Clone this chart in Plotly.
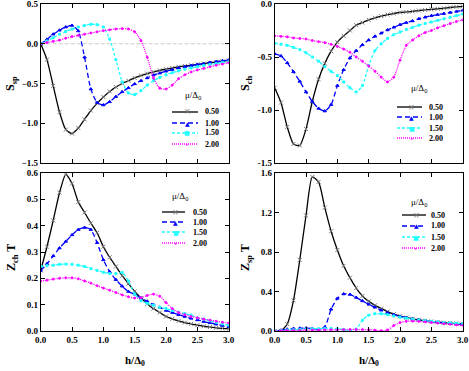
import plotly.graph_objects as go

# ---------------- data ----------------
H = [0.0, 0.1, 0.2, 0.3, 0.4, 0.5, 0.6, 0.7, 0.8, 0.9, 1.0,
     1.1, 1.2, 1.3, 1.4, 1.5, 1.6, 1.7, 1.8, 1.9, 2.0,
     2.1, 2.2, 2.3, 2.4, 2.5, 2.6, 2.7, 2.8, 2.9, 3.0]
MU_LABELS = ["0.50", "1.00", "1.50", "2.00"]
SCH_TICKS = [-1.5, -1.0, -0.5, 0.0]
SCH_TICKTEXT = ["-1.5", "-1.0", "-0.5", "0.0"]

SSP_050 = [0, -0.20, -0.53, -0.86, -1.08, -1.13, -1.06, -0.95, -0.84, -0.75, -0.67,
           -0.60, -0.545, -0.50, -0.465, -0.43, -0.40, -0.375, -0.355, -0.335, -0.32,
           -0.305, -0.29, -0.28, -0.27, -0.26, -0.25, -0.24, -0.23, -0.22, -0.21]
SSP_100 = [0, 0.055, 0.12, 0.17, 0.21, 0.23, 0.16, -0.17, -0.57, -0.74, -0.77,
           -0.73, -0.665, -0.605, -0.555, -0.505, -0.465, -0.43, -0.395, -0.37, -0.345,
           -0.325, -0.305, -0.29, -0.275, -0.26, -0.25, -0.235, -0.225, -0.215, -0.205]
SSP_150 = [0, 0.035, 0.075, 0.12, 0.155, 0.185, 0.21, 0.23, 0.245, 0.24, 0.21,
           0.06, -0.20, -0.48, -0.62, -0.64, -0.59, -0.52, -0.465, -0.425, -0.39,
           -0.365, -0.34, -0.32, -0.305, -0.29, -0.275, -0.26, -0.25, -0.235, -0.225]
SSP_200 = [0, 0.015, 0.03, 0.045, 0.07, 0.09, 0.105, 0.12, 0.135, 0.15, 0.165,
           0.175, 0.185, 0.19, 0.185, 0.15, 0.04, -0.17, -0.43, -0.56, -0.57,
           -0.52, -0.44, -0.39, -0.355, -0.33, -0.31, -0.29, -0.27, -0.255, -0.24]

SCH_050 = [-0.79, -0.93, -1.16, -1.32, -1.335, -1.18, -0.92, -0.71, -0.56, -0.445, -0.36,
           -0.30, -0.25, -0.20, -0.175, -0.15, -0.13, -0.115, -0.10, -0.09, -0.08,
           -0.075, -0.07, -0.062, -0.056, -0.05, -0.045, -0.04, -0.033, -0.027, -0.022]
SCH_100 = [-0.47, -0.49, -0.555, -0.64, -0.73, -0.83, -0.92, -0.985, -1.01, -0.95, -0.77,
           -0.62, -0.51, -0.44, -0.385, -0.34, -0.305, -0.275, -0.245, -0.22, -0.195,
           -0.175, -0.16, -0.14, -0.125, -0.11, -0.10, -0.09, -0.08, -0.07, -0.06]
SCH_150 = [-0.37, -0.38, -0.39, -0.41, -0.43, -0.46, -0.50, -0.54, -0.59, -0.635, -0.675,
           -0.735, -0.79, -0.83, -0.77, -0.58, -0.44, -0.375, -0.325, -0.29, -0.265,
           -0.24, -0.22, -0.20, -0.185, -0.17, -0.155, -0.14, -0.125, -0.11, -0.095]
SCH_200 = [-0.30, -0.305, -0.31, -0.32, -0.325, -0.33, -0.345, -0.355, -0.365, -0.38, -0.40,
           -0.425, -0.455, -0.50, -0.54, -0.585, -0.635, -0.69, -0.735, -0.69, -0.53,
           -0.39, -0.34, -0.30, -0.27, -0.25, -0.225, -0.205, -0.185, -0.165, -0.15]

ZCH_050 = [0.23, 0.32, 0.42, 0.525, 0.595, 0.56, 0.49, 0.45, 0.41, 0.373, 0.32,
           0.28, 0.245, 0.21, 0.18, 0.15, 0.125, 0.103, 0.085, 0.07, 0.055,
           0.046, 0.038, 0.032, 0.027, 0.022, 0.018, 0.015, 0.012, 0.01, 0.008]
ZCH_100 = [0.23, 0.255, 0.285, 0.315, 0.34, 0.365, 0.385, 0.393, 0.385, 0.335, 0.27,
           0.225, 0.195, 0.17, 0.15, 0.14, 0.125, 0.113, 0.10, 0.09, 0.078,
           0.07, 0.062, 0.055, 0.048, 0.042, 0.036, 0.031, 0.026, 0.021, 0.016]
ZCH_150 = [0.245, 0.248, 0.25, 0.253, 0.254, 0.253, 0.25, 0.245, 0.237, 0.23, 0.223,
           0.218, 0.218, 0.222, 0.19, 0.14, 0.115, 0.105, 0.098, 0.09, 0.085,
           0.078, 0.072, 0.066, 0.06, 0.05, 0.045, 0.039, 0.033, 0.027, 0.022]
ZCH_200 = [0.19, 0.193, 0.197, 0.2, 0.202, 0.202, 0.198, 0.19, 0.182, 0.172, 0.163,
           0.155, 0.146, 0.137, 0.13, 0.125, 0.126, 0.135, 0.14, 0.132, 0.108,
           0.085, 0.07, 0.062, 0.055, 0.05, 0.045, 0.041, 0.037, 0.033, 0.03]

ZSP_050 = [0.0, 0.002, 0.07, 0.31, 0.72, 1.17, 1.56, 1.51, 1.25, 1.01, 0.82,
           0.66, 0.54, 0.435, 0.355, 0.30, 0.26, 0.228, 0.197, 0.17, 0.15,
           0.135, 0.123, 0.113, 0.104, 0.097, 0.09, 0.085, 0.08, 0.076, 0.072]
ZSP_100 = [0.0, 0.008, 0.018, 0.025, 0.028, 0.03, 0.026, 0.015, 0.04, 0.22, 0.33,
           0.375, 0.37, 0.34, 0.305, 0.27, 0.24, 0.21, 0.185, 0.165, 0.148,
           0.135, 0.123, 0.113, 0.104, 0.096, 0.089, 0.083, 0.078, 0.073, 0.069]
ZSP_150 = [0.0, 0.005, 0.01, 0.013, 0.016, 0.02, 0.022, 0.024, 0.025, 0.025, 0.022,
           0.015, 0.005, 0.02, 0.11, 0.16, 0.175, 0.175, 0.165, 0.152, 0.14,
           0.13, 0.12, 0.112, 0.104, 0.097, 0.091, 0.086, 0.082, 0.078, 0.075]
ZSP_200 = [0.0, 0.002, 0.004, 0.006, 0.007, 0.008, 0.009, 0.01, 0.011, 0.012, 0.013,
           0.014, 0.015, 0.015, 0.014, 0.012, 0.008, 0.003, 0.01, 0.055, 0.085,
           0.098, 0.1, 0.097, 0.092, 0.086, 0.08, 0.074, 0.068, 0.062, 0.057]

# ---------------- styles ----------------
W, HGT = 469, 371
FONT = "Liberation Serif, Times New Roman, serif"
COLORS = ["#000000", "#0000ff", "#22ffff", "#ff00ff"]
MCOLORS = ["#7a7a7a", "#0000ff", "#22ffff", "#ff00ff"]
DASHES = ["solid", "5px,3px", "3px,2px", "1px,1px"]
SYMBOLS = ["x-thin", "triangle-up", "square", "circle"]
MSIZES = [4, 3, 2, 2]
LEG_SYMS = ["×", "▲", "■", "•"]


def px(x):
    return x / W


def py(y):
    return 1 - y / HGT


fig = go.Figure()

panels = [
    ("x", "y", [SSP_050, SSP_100, SSP_150, SSP_200]),
    ("x2", "y2", [SCH_050, SCH_100, SCH_150, SCH_200]),
    ("x3", "y3", [ZCH_050, ZCH_100, ZCH_150, ZCH_200]),
    ("x4", "y4", [ZSP_050, ZSP_100, ZSP_150, ZSP_200]),
]

for xa, ya, series in panels:
    for i, ys in enumerate(series):
        fig.add_trace(go.Scatter(
            x=H, y=ys, xaxis=xa, yaxis=ya, mode="lines+markers",
            line=dict(color=COLORS[i], width=1.3, dash=DASHES[i], shape="spline", smoothing=0.6),
            marker=dict(symbol=SYMBOLS[i], size=MSIZES[i], color=MCOLORS[i],
                        line=dict(color=MCOLORS[i], width=1)),
            showlegend=False, hoverinfo="skip"))

XD_L = [px(40.7), px(228.7)]
XD_R = [px(274.7), px(462.7)]
YD_T = [py(163), py(4)]
YD_B = [py(331), py(173)]

tickfont = dict(family=FONT, size=9, color="black", weight="bold")


def xaxis(domain, anchor, labels):
    return dict(domain=domain, anchor=anchor, range=[0, 3], dtick=0.5, tick0=0,
                ticks="inside", ticklen=4, tickcolor="black", mirror="allticks",
                showline=True, linecolor="black", linewidth=1, showgrid=False,
                zeroline=False, showticklabels=labels, tickformat=".1f", tickfont=tickfont,
                automargin=False)


def yaxis(domain, anchor, rng, dtick):
    return dict(domain=domain, anchor=anchor, range=rng, dtick=dtick, tick0=0,
                ticks="inside", ticklen=4, tickcolor="black", mirror="allticks",
                showline=True, linecolor="black", linewidth=1, showgrid=False,
                zeroline=False, tickformat=".1f", tickfont=tickfont, automargin=False,
                ticklabeloverflow="allow")


shapes = [dict(type="line", xref="x", yref="y", x0=0, x1=3, y0=0, y1=0,
               line=dict(color="#cccccc", width=1, dash="4px,2px"), layer="below")]
annotations = []

# y-axis titles and x-axis titles
title_font = dict(family=FONT, size=12, color="black", weight="bold")
for text, x, y in [("S<sub>sp</sub>", 11, 84), ("S<sub>ch</sub>", 246, 84),
                   ("Z<sub>ch</sub> T", 12, 258), ("Z<sub>sp</sub> T", 246, 258)]:
    annotations.append(dict(text=text, x=px(x), y=py(y), xref="paper", yref="paper",
                            showarrow=False, textangle=-90, font=title_font,
                            xanchor="center", yanchor="middle"))
for x in [134.7, 368.7]:
    annotations.append(dict(text="h/Δ<sub>0</sub>", x=px(x), y=py(361), xref="paper", yref="paper",
                            showarrow=False, font=dict(family=FONT, size=11, color="black", weight="bold"),
                            xanchor="center", yanchor="middle"))

# manual legends: (title_x, title_y, entry_ys, line_x0, line_x1, label_x)
legends = [
    (193, 95, [112, 123, 133, 144], 172, 198, 203),
    (419, 89, [107, 117, 128, 138], 397, 422, 427),
    (180, 196, [212, 222, 232, 243], 162, 185, 191),
    (419, 202, [215, 226, 237, 248], 402, 426, 429),
]
legfont = dict(family=FONT, size=8, color="black", weight="bold")
for tx, ty, eys, lx0, lx1, labx in legends:
    annotations.append(dict(text="μ/Δ<sub>0</sub>", x=px(tx), y=py(ty), xref="paper", yref="paper",
                            showarrow=False, font=dict(family=FONT, size=9, color="black"),
                            xanchor="center", yanchor="middle"))
    for i, ey in enumerate(eys):
        shapes.append(dict(type="line", xref="paper", yref="paper", x0=px(lx0), x1=px(lx1),
                           y0=py(ey), y1=py(ey),
                           line=dict(color=COLORS[i], width=1.3, dash=DASHES[i])))
        annotations.append(dict(text=LEG_SYMS[i], x=px((lx0 + lx1) / 2 + 2), y=py(ey),
                                xref="paper", yref="paper", showarrow=False,
                                font=dict(family="DejaVu Sans", size=6 if i else 8, color=MCOLORS[i]),
                                xanchor="center", yanchor="middle"))
        annotations.append(dict(text=MU_LABELS[i], x=px(labx), y=py(ey), xref="paper", yref="paper",
                                showarrow=False, font=legfont, xanchor="left", yanchor="middle"))

y2 = yaxis(YD_T, "x2", [-1.5, 0.0], 0.5)
y2.update(tickmode="array", tickvals=SCH_TICKS, ticktext=SCH_TICKTEXT)

fig.update_layout(
    width=W, height=HGT, margin=dict(l=0, r=0, t=0, b=0),
    paper_bgcolor="white", plot_bgcolor="white", showlegend=False,
    font=dict(family=FONT, color="black"),
    xaxis=xaxis(XD_L, "y", False),
    yaxis=yaxis(YD_T, "x", [-1.5, 0.5], 0.5),
    xaxis2=xaxis(XD_R, "y2", False),
    yaxis2=y2,
    xaxis3=xaxis(XD_L, "y3", True),
    yaxis3=yaxis(YD_B, "x3", [0, 0.6], 0.1),
    xaxis4=xaxis(XD_R, "y4", True),
    yaxis4=yaxis(YD_B, "x4", [0, 1.6], 0.4),
    shapes=shapes, annotations=annotations,
)

fig.write_html("out.html", config={"displayModeBar": False},
               post_script="document.body.style.margin='0';document.body.style.padding='0';")
